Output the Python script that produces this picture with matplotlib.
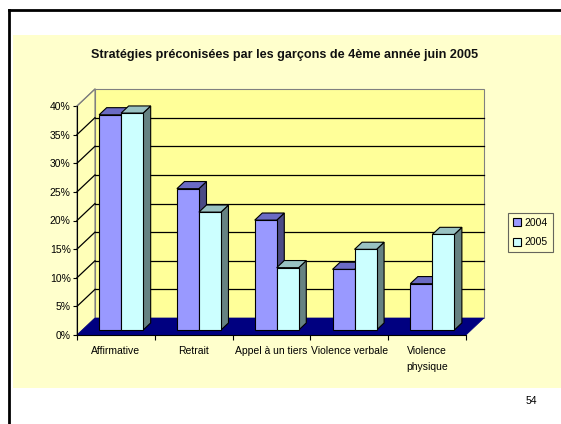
import numpy as np
import matplotlib
matplotlib.use("Agg")
import matplotlib.pyplot as plt
from matplotlib.patches import Polygon, Rectangle, Patch
from matplotlib.lines import Line2D

plt.rcParams['font.family'] = ['Liberation Sans', 'DejaVu Sans']

# données
categories = ['Affirmative', 'Retrait', 'Appel à un tiers', 'Violence verbale', 'Violence\nphysique']
series = ['2004', '2005']
v2004 = [37.6, 24.7, 19.2, 10.6, 8.1]
v2005 = [37.9, 20.6, 10.9, 14.1, 16.7]
yticks = [0, 5, 10, 15, 20, 25, 30, 35, 40]
title = 'Stratégies préconisées par les garçons de 4ème année juin 2005'
page = '54'

# couleurs (face avant, dessus, côté)
c2004 = ('#9999FF', '#6B6BC4', '#4B4B85')
c2005 = ('#CCFFFF', '#99C2C2', '#668282')

W, H = 561, 424
fig = plt.figure(figsize=(W / 100, H / 100), dpi=100)
fig.patch.set_facecolor('white')

# fond du graphique + cadre de la diapo
fig.add_artist(Rectangle((13 / W, 1 - 388 / H), 1, (388 - 35) / H,
                         transform=fig.transFigure, fc='#FFFFCC', ec='none', zorder=0))
fig.add_artist(Line2D([9 / W, 1.01], [1 - 10 / H] * 2, transform=fig.transFigure,
                      color='black', lw=2, zorder=1))
fig.add_artist(Line2D([9 / W] * 2, [1 - 10 / H, -0.01], transform=fig.transFigure,
                      color='black', lw=2, zorder=1))

ax = fig.add_axes([77 / W, 1 - 335 / H, 389 / W, 229 / H])
ax.set_xlim(0, 5)
ax.set_ylim(0, 40)
ax.patch.set_visible(False)
for s in ['top', 'right']:
    ax.spines[s].set_visible(False)
ax.spines['left'].set_zorder(10)
ax.spines['bottom'].set_zorder(10)

# profondeur (en unités de données)
DX = 18 / (389 / 5)
DY = 17 / (229 / 40)
n = len(categories)

# mur gauche, mur du fond, sol
ax.add_patch(Polygon([(0, 0), (0, 40), (DX, 40 + DY), (DX, DY)], closed=True,
                     fc='#FFFFB8', ec='#808080', lw=0.8, clip_on=False, zorder=1))
ax.add_patch(Polygon([(DX, DY), (n + DX, DY), (n + DX, 40 + DY), (DX, 40 + DY)], closed=True,
                     fc='#FFFF99', ec='#808080', lw=0.8, clip_on=False, zorder=1))
for t in yticks[1:-1]:
    ax.plot([DX, n + DX], [t + DY, t + DY], color='black', lw=0.9, clip_on=False, zorder=2)
for t in yticks[1:]:
    ax.plot([0, DX], [t, t + DY], color='black' if t < 40 else '#808080', lw=0.9,
            clip_on=False, zorder=2)
ax.add_patch(Polygon([(0, 0), (n, 0), (n + DX, DY), (DX, DY)], closed=True,
                     fc='#000080', ec='#000080', lw=0.5, clip_on=False, zorder=3))

# barres 3D
w = 22 / (389 / 5)
f0, d = 0.29, 0.42
z = 4
for i in range(n):
    for k, (vals, cols) in enumerate([(v2004, c2004), (v2005, c2005)]):
        x0 = i + 0.5 - w + k * w + f0 * DX
        b = f0 * DY
        top = b + vals[i]
        ox, oy = d * DX, d * DY
        ax.add_patch(Polygon([(x0 + w, b), (x0 + w + ox, b + oy), (x0 + w + ox, top + oy), (x0 + w, top)],
                             closed=True, fc=cols[2], ec='black', lw=0.8, clip_on=False, zorder=z))
        ax.add_patch(Polygon([(x0, top), (x0 + w, top), (x0 + w + ox, top + oy), (x0 + ox, top + oy)],
                             closed=True, fc=cols[1], ec='black', lw=0.8, clip_on=False, zorder=z))
        ax.add_patch(Rectangle((x0, b), w, vals[i], fc=cols[0], ec='black', lw=0.8,
                               clip_on=False, zorder=z))
        z += 1

# axes
ax.set_yticks(yticks)
ax.set_yticklabels([f'{t}%' for t in yticks])
ax.tick_params(axis='y', direction='out', length=3, width=0.8, pad=1.5, labelsize=7.5)
ax.set_xticks(range(n + 1))
ax.set_xticklabels([])
ax.set_xticks(np.arange(n) + 0.5, minor=True)
ax.set_xticklabels(categories, minor=True, fontsize=7.5, linespacing=1.7)
ax.tick_params(axis='x', which='major', direction='out', length=3.5, width=0.8)
ax.tick_params(axis='x', which='minor', length=0, pad=8)

fig.text(284.5 / W, 1 - 55 / H, title, ha='center', va='center', fontsize=9.1,
         fontweight='bold', color='#111111')

handles = [Patch(fc=c2004[0], ec='black', lw=0.8), Patch(fc=c2005[0], ec='black', lw=0.8)]
leg = fig.legend(handles, series, loc='center', bbox_to_anchor=(530 / W, 1 - 232.5 / H),
                 fontsize=7.5, frameon=True, fancybox=False, handlelength=0.8,
                 handleheight=0.8, handletextpad=0.3, borderpad=0.5, labelspacing=0.9,
                 borderaxespad=0)
leg.get_frame().set_facecolor('#FFFFCC')
leg.get_frame().set_edgecolor('#404040')
leg.get_frame().set_linewidth(0.8)

fig.text(531 / W, 1 - 401 / H, page, ha='center', va='center', fontsize=7.5)

fig.savefig('out.png', dpi=100)
